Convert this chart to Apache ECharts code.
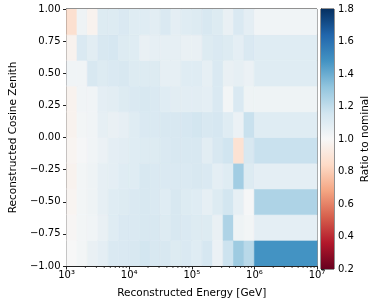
<!DOCTYPE html>
<html>
<head>
<meta charset="utf-8">
<script src="https://cdn.jsdelivr.net/npm/echarts@6/dist/echarts.min.js"></script>
<style>html,body{margin:0;padding:0;background:#fff;}#c{width:374px;height:304px;}</style>
</head>
<body>
<div id="c"></div>
<script>
// Bin edges (energy in GeV, log bins; cos zenith bands)
var energyEdges = [1000, 1468, 2154, 3162, 4642, 6813, 10000, 14678, 21544, 31623, 46416, 68129, 100000, 146780, 215440, 316230, 464160, 681290, 1000000, 10000000];
var cosEdges = [-1.0, -0.8, -0.6, -0.4, -0.2, 0.0, 0.2, 0.4, 0.6, 0.8, 1.0];

// Ratio to nominal per cos-zenith band (left to right in energy)
var band_m10_m08 = [1.00,1.02,1.06,1.08,1.12,1.12,1.13,1.15,1.13,1.13,1.11,1.12,1.10,1.14,1.05,1.17,1.29,1.22,1.48];
var band_m08_m06 = [0.99,1.02,1.03,1.06,1.10,1.12,1.12,1.13,1.13,1.11,1.13,1.12,1.11,1.11,1.06,1.25,1.04,1.02,1.08];
var band_m06_m04 = [0.98,1.02,1.04,1.07,1.10,1.11,1.12,1.13,1.12,1.10,1.13,1.11,1.10,1.07,1.11,1.15,1.07,1.01,1.25];
var band_m04_m02 = [0.97,1.02,1.04,1.07,1.08,1.10,1.10,1.13,1.12,1.12,1.12,1.12,1.13,1.12,1.08,1.10,1.28,1.11,1.08];
var band_m02_p00 = [0.98,1.01,1.03,1.05,1.08,1.09,1.10,1.11,1.11,1.12,1.13,1.13,1.13,1.09,1.13,1.16,0.88,1.13,1.18];
var band_p00_p02 = [0.97,1.02,1.03,1.07,1.06,1.07,1.10,1.12,1.12,1.13,1.13,1.14,1.15,1.13,1.14,1.10,1.05,1.18,1.10];
var band_p02_p04 = [0.97,1.03,1.03,1.08,1.09,1.11,1.12,1.13,1.12,1.10,1.09,1.09,1.09,1.08,1.12,1.02,1.12,1.04,1.04];
var band_p04_p06 = [1.03,1.03,1.13,1.11,1.12,1.13,1.11,1.11,1.11,1.07,1.07,1.10,1.10,1.07,1.12,1.06,1.07,1.05,1.10];
var band_p06_p08 = [0.97,1.12,1.09,1.13,1.14,1.11,1.10,1.06,1.07,1.07,1.07,1.06,1.06,1.11,1.12,1.11,1.08,1.12,1.10];
var band_p08_p10 = [0.87,1.04,0.97,1.11,1.11,1.12,1.10,1.10,1.09,1.12,1.08,1.10,1.11,1.13,1.11,1.06,1.12,1.08,1.03];

var bands = [band_m10_m08, band_m08_m06, band_m06_m04, band_m04_m02, band_m02_p00,
             band_p00_p02, band_p02_p04, band_p04_p06, band_p06_p08, band_p08_p10];

var xTickValues = [1000, 10000, 100000, 1000000, 10000000];
var xTickLabels = ['10\u00b3', '10\u2074', '10\u2075', '10\u2076', '10\u2077'];
var colorbarTicks = [0.2, 0.4, 0.6, 0.8, 1.0, 1.2, 1.4, 1.6, 1.8];

var RdBu = ['#67001f','#b2182b','#d6604d','#f4a582','#fddbc7','#f7f7f7','#d1e5f0','#92c5de','#4393c3','#2166ac','#053061'];

var cells = [];
for (var j = 0; j < bands.length; j++) {
  for (var i = 0; i < bands[j].length; i++) {
    cells.push([i, j, bands[j][i]]);
  }
}
var minorTicks = [];
for (var d = 0; d < xTickValues.length - 1; d++) {
  for (var m = 2; m <= 9; m++) minorTicks.push([xTickValues[d] * m]);
}

var FONT = 'DejaVu Sans';
var chart = echarts.init(document.getElementById('c'), null, {renderer: 'canvas'});
chart.setOption({
  animation: false,
  backgroundColor: '#fff',
  textStyle: {fontFamily: FONT},
  grid: [
    {left: 55, top: 9, width: 262, height: 260, show: true, borderColor: '#222', borderWidth: 1, backgroundColor: 'transparent'},
    {left: 321, top: 9, width: 13, height: 260, show: true, borderColor: '#222', borderWidth: 1, backgroundColor: 'transparent'}
  ],
  xAxis: [
    {type: 'log', gridIndex: 0, min: 1000, max: 10000000, logBase: 10,
     name: 'Reconstructed Energy [GeV]', nameLocation: 'middle', nameGap: 22,
     nameTextStyle: {fontFamily: FONT, fontSize: 10.5, color: '#000'},
     axisLine: {show: true, onZero: false, lineStyle: {color: '#222', width: 1}},
     axisTick: {show: true, length: 3.5, inside: false, lineStyle: {color: '#222'}},
     splitLine: {show: false},
     axisLabel: {fontFamily: FONT, fontSize: 10, color: '#000', margin: 4,
       formatter: function (v) { var k = xTickValues.indexOf(Math.round(v)); return k >= 0 ? xTickLabels[k] : ''; }}
    },
    {type: 'value', gridIndex: 1, min: 0, max: 1, show: false}
  ],
  yAxis: [
    {type: 'value', gridIndex: 0, min: -1, max: 1, interval: 0.25,
     name: 'Reconstructed Cosine Zenith', nameLocation: 'middle', nameGap: 41,
     nameTextStyle: {fontFamily: FONT, fontSize: 10.5, color: '#000'},
     axisLine: {show: true, onZero: false, lineStyle: {color: '#222', width: 1}},
     axisTick: {show: true, length: 3.5, lineStyle: {color: '#222'}},
     splitLine: {show: false},
     axisLabel: {fontFamily: FONT, fontSize: 10, color: '#000', margin: 6,
       formatter: function (v) { var s = Math.abs(v).toFixed(2); return (v < 0 ? '\u2212' : '') + s; }}
    },
    {type: 'value', gridIndex: 1, min: 0.2, max: 1.8, interval: 0.2, position: 'right',
     name: 'Ratio to nominal', nameLocation: 'middle', nameGap: 26, nameRotate: 90,
     nameTextStyle: {fontFamily: FONT, fontSize: 10.5, color: '#000'},
     axisLine: {show: true, lineStyle: {color: '#222', width: 1}},
     axisTick: {show: true, length: 3.5, lineStyle: {color: '#222'}},
     splitLine: {show: false},
     axisLabel: {fontFamily: FONT, fontSize: 10, color: '#000', margin: 4,
       formatter: function (v) { return v.toFixed(1); }}
    }
  ],
  visualMap: {
    show: false, type: 'continuous', min: 0.2, max: 1.8, dimension: 2, seriesIndex: 0,
    inRange: {color: RdBu}
  },
  series: [
    {
      type: 'custom', xAxisIndex: 0, yAxisIndex: 0, data: cells, clip: true,
      encode: {x: -1, y: -1},
      renderItem: function (params, api) {
        var i = api.value(0), j = api.value(1);
        var p0 = api.coord([energyEdges[i], cosEdges[j + 1]]);
        var p1 = api.coord([energyEdges[i + 1], cosEdges[j]]);
        var c = api.visual('color');
        return {type: 'rect', shape: {x: p0[0], y: p0[1], width: p1[0] - p0[0], height: p1[1] - p0[1]},
                style: {fill: c, stroke: c, lineWidth: 0.6}};
      },
      z: 1
    },
    {
      type: 'custom', xAxisIndex: 0, yAxisIndex: 0, data: minorTicks, clip: false, silent: true,
      encode: {x: 0},
      renderItem: function (params, api) {
        var p = api.coord([api.value(0), -1]);
        return {type: 'line', shape: {x1: p[0], y1: p[1], x2: p[0], y2: p[1] + 2}, style: {stroke: '#222', lineWidth: 0.8}};
      },
      z: 5
    },
    {
      type: 'custom', xAxisIndex: 1, yAxisIndex: 1, data: [[0, 0.2, 1.8]], clip: false, silent: true,
      encode: {x: -1, y: -1},
      renderItem: function (params, api) {
        var p0 = api.coord([0, api.value(2)]);
        var p1 = api.coord([1, api.value(1)]);
        var stops = RdBu.map(function (c, k) { return {offset: k / (RdBu.length - 1), color: c}; });
        return {type: 'rect', shape: {x: p0[0], y: p0[1], width: p1[0] - p0[0], height: p1[1] - p0[1]},
                style: {fill: {type: 'linear', x: 0, y: 1, x2: 0, y2: 0, colorStops: stops}}};
      }
    }
  ]
});
</script>
</body>
</html>
